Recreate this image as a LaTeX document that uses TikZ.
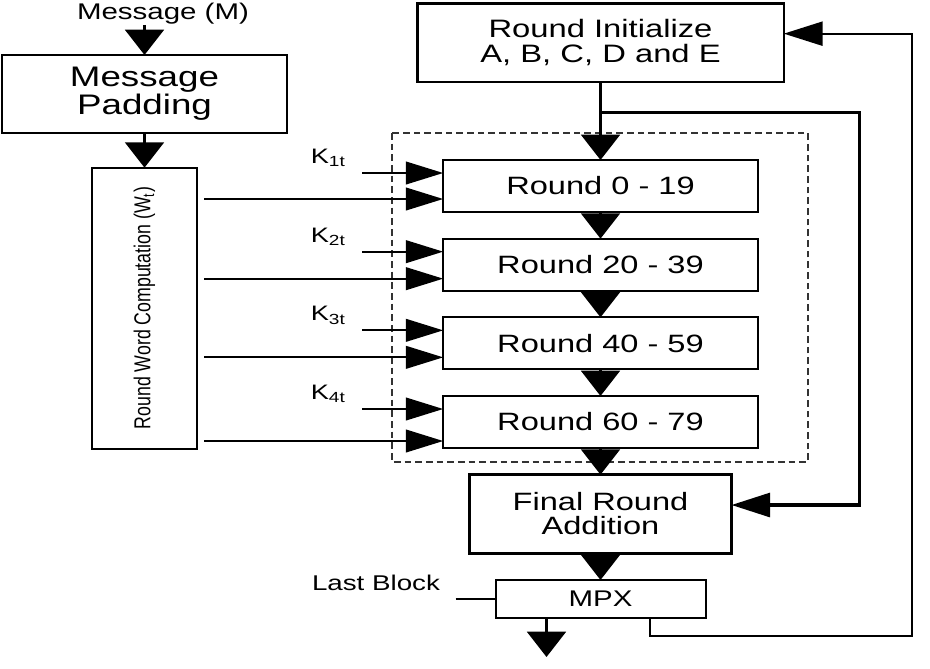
\documentclass[tikz,border=0pt]{standalone}
\usepackage{fontspec}
\setmainfont{Liberation Sans}[FakeStretch=1.3]
\newfontfamily\rotfont{Liberation Sans}
\usepackage{tikz}
\usetikzlibrary{arrows.meta,positioning,calc}

\begin{document}
\begin{tikzpicture}[
    x=0.75pt,y=-0.75pt,
    box/.style={draw,line width=2pt,align=center,inner sep=0pt,outer sep=0pt,
                font=\fontsize{18.8}{18}\selectfont},
    rbox/.style={draw,line width=1.5pt,inner sep=0pt,outer sep=0pt,minimum width=236pt,
                minimum height=39pt,font=\fontsize{18.8}{20}\selectfont},
    lbl/.style={inner sep=0pt},
    down/.style={-{Triangle[length=19pt,width=29pt]},line width=2.4pt},
    side/.style={-{Triangle[length=28pt,width=17pt]},line width=1.5pt},
    feed/.style={-{Triangle[length=29pt,width=18pt]},line width=2.4pt},
    frame/.style={draw=black!80,line width=1.1pt,dash pattern=on 5pt off 3pt}
  ]
    \useasboundingbox (0,0) rectangle (930,668);
    \node[box,minimum width=213.75pt,minimum height=58.5pt,
          font=\fontsize{21.2}{19.5}\selectfont] (pad) at (144.5,94) {Message\\Padding};
    \node[lbl,font=\fontsize{17}{18}\selectfont] (msg) at (163,14) {Message (M)};
    \node[box,below=26pt of pad,minimum width=78.75pt,minimum height=210.75pt,
          line width=1.5pt,font=\rotfont\fontsize{13.3}{14}\selectfont] (words)
          {\rotatebox{90}{\scalebox{1}[1.3]{Round Word Computation (W\textsubscript{t})}}};
    \node[rbox] (r1) at (600.5,186) {Round 0 - 19};
    \node[rbox,below=20pt of r1] (r2) {Round 20 - 39};
    \node[rbox,below=20pt of r2] (r3) {Round 40 - 59};
    \node[rbox,below=20pt of r3] (r4) {Round 60 - 79};
    \node[box,above=58.5pt of r1,minimum width=275pt,minimum height=59pt,
          font=\fontsize{18.9}{18.75}\selectfont] (init) {Round Initialize\\A, B, C, D and E};
    \node[box,below=20pt of r4,minimum width=196.5pt,minimum height=59pt] (final)
          {Final Round\\Addition};
    \node[box,below=20pt of final,minimum width=157.5pt,minimum height=28.5pt,
          line width=1.5pt,font=\fontsize{17}{17}\selectfont] (mpx) {MPX};
    \node[lbl,font=\fontsize{16}{16}\selectfont] (last) at (376,583) {Last Block};
    \draw[frame] ($(r1.north west)+(-51,-27)$) rectangle ($(r4.south east)+(50,14)$);
    \draw[down] (msg.south -| pad.north) -- (pad.north);
    \draw[down] (pad.south) -- (words.north);
    \draw[down] (init.south) -- (r1.north);
    \draw[down] (r1) -- (r2);
    \draw[down] (r2) -- (r3);
    \draw[down] (r3) -- (r4);
    \draw[down] (r4) -- (final);
    \draw[down] (final) -- (mpx);
    \coordinate (out) at ($(mpx.south)+(-54,39)$);
    \draw[down] (out |- mpx.south) -- (out);
    \foreach \i/\dw in {1/13,2/14,3/14,4/19}{
      \node[lbl,font=\fontsize{15.7}{16}\selectfont] (k\i) at ($(r\i.west)+(-115,-28)$)
            {K\textsubscript{\i t}};
      \coordinate (ks\i) at ($(r\i.west)+(-81,-13)$);
      \draw[side] (ks\i) -- (ks\i -| r\i.west);
      \draw[side] ($(words.east |- r\i.west)+(7,\dw)$) -- ($(r\i.west)+(0,\dw)$);
    }
    \coordinate (split) at ($(init.south)!0.39!(r1.north)$);
    \coordinate (fin) at ($(final.east)+(0,-9)$);
    \draw[feed] (split) -| ($(fin)+(128,0)$) -- (fin);
    \coordinate (ini) at ($(init.east)+(0,-9)$);
    \coordinate (mo) at ($(mpx.south)+(49,0)$);
    \draw[feed,line width=1.5pt] (mo) -- ++(0,18) -| ($(ini)+(128,0)$) -- (ini);
    \coordinate (lb) at ($(mpx.west)+(-40,0)$);
    \draw[line width=1.5pt] (lb) -- (mpx.west);
  \end{tikzpicture}
\end{document}
